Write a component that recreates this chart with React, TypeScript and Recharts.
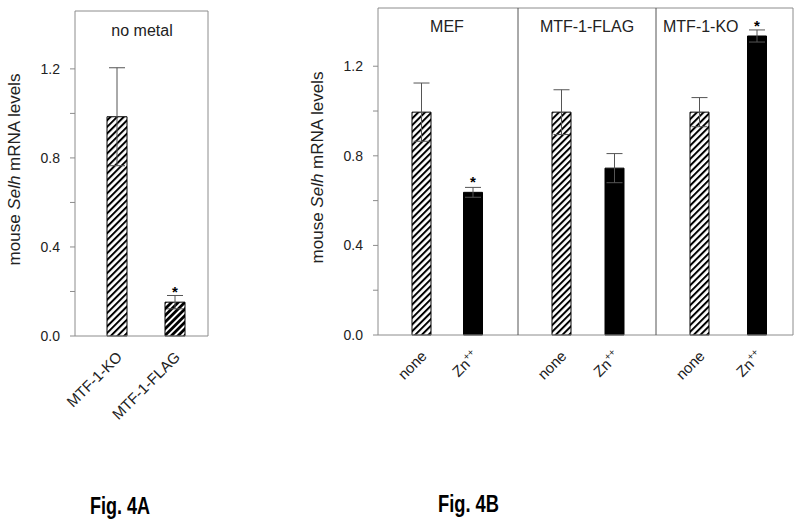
import React from 'react';
import { BarChart, Bar, XAxis, YAxis, ErrorBar, Cell, LabelList } from 'recharts';

// Fig. 4A: no metal
const groupsA = ['MTF-1-KO', 'MTF-1-FLAG'];
const levelsA = [0.985, 0.152];
const errorsA = [0.22, 0.03];
const starsA = ['', '*'];
const fillsA = ['url(#hatch)', 'url(#hatchDense)'];

// Fig. 4B: three cell lines, untreated vs zinc
const treatments = ['none', 'Zn++'];
const cellLines = ['MEF', 'MTF-1-FLAG', 'MTF-1-KO'];
const levelsMEF = [0.995, 0.637];
const errorsMEF = [0.13, 0.022];
const starsMEF = ['', '*'];
const levelsFLAG = [0.995, 0.745];
const errorsFLAG = [0.1, 0.065];
const starsFLAG = ['', ''];
const levelsKO = [0.995, 1.335];
const errorsKO = [0.065, 0.027];
const starsKO = ['', '*'];
const fillsB = ['url(#hatch)', '#000'];

const yTicks = [0, 0.2, 0.4, 0.6, 0.8, 1.0, 1.2];
const Y_MAX = 1.46;
const FONT = '"Liberation Sans", Arial, Helvetica, sans-serif';
const BOX = '#8c8c8c';

const dataA = groupsA.map((g, i) => ({ name: g, value: levelsA[i], err: errorsA[i], star: starsA[i] }));
const makeB = (levels: number[], errs: number[], stars: string[]) =>
  treatments.map((t, i) => ({ name: t, value: levels[i], err: errs[i], star: stars[i] }));
const sectionData = [
  makeB(levelsMEF, errorsMEF, starsMEF),
  makeB(levelsFLAG, errorsFLAG, starsFLAG),
  makeB(levelsKO, errorsKO, starsKO),
];

const fmtY = (v: number) => (Math.round(v * 10) % 4 === 0 ? v.toFixed(1) : '');

const RotTick = ({ x, y, payload }: any) => {
  const v = String(payload.value);
  const sup = v.endsWith('++');
  return (
    <text
      transform={`translate(${x + 6},${y + 22}) rotate(-45)`}
      textAnchor="end"
      fontSize={15}
      fill="#222"
      fontFamily={FONT}
    >
      {sup ? v.slice(0, -2) : v}
      {sup && (
        <tspan dy={-6} fontSize={10} fill="#222">
          ++
        </tspan>
      )}
    </text>
  );
};

const YLabel = ({ viewBox }: any) => {
  const cx = viewBox.x + viewBox.width - 61;
  const cy = viewBox.y + viewBox.height / 2 - 4;
  return (
    <text
      x={cx}
      y={cy}
      transform={`rotate(-90, ${cx}, ${cy})`}
      textAnchor="middle"
      dominantBaseline="central"
      fontSize={17}
      fill="#222"
      fontFamily={FONT}
    >
      {'mouse '}
      <tspan fontStyle="italic">Selh</tspan>
      {' mRNA levels'}
    </text>
  );
};

const Star = ({ x, y, width, value }: any) =>
  value ? (
    <text x={x + width / 2} y={y - 5} textAnchor="middle" fontSize={15} fontWeight="bold" fill="#000" fontFamily={FONT}>
      {value}
    </text>
  ) : null;

interface PanelProps {
  data: { name: string; value: number; err: number; star: string }[];
  fills: string[];
  left: number;
  width: number;
  top: number;
  axisWidth: number;
  marginRight: number;
  pad: { left: number; right: number };
  barSize: number;
  divider?: boolean;
  rightEdge?: boolean;
}

// plot area: top edge at `top`, bottom edge at y = 336 (A) / 335 (B)
const Panel = ({ data, fills, left, width, top, axisWidth, marginRight, pad, barSize, divider, rightEdge }: PanelProps) => (
  <div style={{ position: 'absolute', left: axisWidth > 0 ? left : left - 1, top: 0 }}>
    <BarChart
      width={axisWidth > 0 ? width : width + 1}
      height={440}
      data={data}
      margin={{ top: top - 1, right: rightEdge ? marginRight - 1 : marginRight, bottom: 0, left: 0 }}
    >
      <XAxis
        dataKey="name"
        height={440 - 336 + (top === 8 ? 1 : 0)}
        padding={pad}
        tick={<RotTick />}
        tickLine={false}
        tickSize={0}
        tickMargin={0}
        interval={0}
        axisLine={{ stroke: BOX }}
      />
      <XAxis xAxisId="top" orientation="top" dataKey="name" height={1} tick={false} tickLine={false} axisLine={{ stroke: BOX }} />
      {axisWidth > 0 ? (
        <YAxis
          width={axisWidth}
          domain={[0, Y_MAX]}
          ticks={yTicks}
          interval={0}
          tickFormatter={fmtY}
          tick={{ fontSize: 14, fill: '#222', fontFamily: FONT }}
          tickSize={5}
          tickMargin={10}
          tickLine={{ stroke: BOX }}
          axisLine={{ stroke: BOX }}
          label={<YLabel />}
        />
      ) : (
        <YAxis
          width={1}
          domain={[0, Y_MAX]}
          tick={false}
          tickLine={false}
          axisLine={divider ? { stroke: '#555' } : false}
        />
      )}
      {rightEdge && (
        <YAxis yAxisId="right" orientation="right" domain={[0, Y_MAX]} width={1} tick={false} tickLine={false} axisLine={{ stroke: BOX }} />
      )}
      <Bar dataKey="value" barSize={barSize} isAnimationActive={false}>
        {data.map((d, i) => (
          <Cell key={d.name} fill={fills[i]} stroke="#000" strokeWidth={1} />
        ))}
        <ErrorBar dataKey="err" width={8} stroke="#555" strokeWidth={1} direction="y" />
        <LabelList dataKey="star" content={<Star />} />
      </Bar>
    </BarChart>
  </div>
);

export default function App() {
  return (
    <div style={{ position: 'absolute', left: 0, top: 0, width: 800, height: 529, background: '#fff', fontFamily: FONT }}>
      <svg width={0} height={0} style={{ position: 'absolute' }}>
        <defs>
          <pattern id="hatch" patternUnits="userSpaceOnUse" width={4.7} height={10} patternTransform="rotate(45)">
            <rect width={4.7} height={10} fill="#fff" />
            <rect width={2} height={10} fill="#000" />
          </pattern>
          <pattern id="hatchDense" patternUnits="userSpaceOnUse" width={4.7} height={10} patternTransform="rotate(45)">
            <rect width={4.7} height={10} fill="#fff" />
            <rect width={2.8} height={10} fill="#000" />
          </pattern>
        </defs>
      </svg>

      <Panel data={dataA} fills={fillsA} left={0} width={230} top={11} axisWidth={75} marginRight={22} pad={{ left: 13, right: 4 }} barSize={20} rightEdge />
      <Panel data={sectionData[0]} fills={fillsB} left={290} width={228} top={8} axisWidth={88} marginRight={0} pad={{ left: 18, right: 19 }} barSize={19} />
      <Panel data={sectionData[1]} fills={fillsB} left={518} width={138} top={8} axisWidth={0} marginRight={0} pad={{ left: 17, right: 15 }} barSize={19} divider />
      <Panel data={sectionData[2]} fills={fillsB} left={656} width={144} top={8} axisWidth={0} marginRight={7} pad={{ left: 15, right: 7 }} barSize={19} divider rightEdge />

      <svg width={800} height={529} style={{ position: 'absolute', left: 0, top: 0, pointerEvents: 'none' }}>
        <g fontFamily={FONT} fontSize={16} fill="#222">
          <text x={142} y={36} textAnchor="middle">no metal</text>
          <text x={447} y={32} textAnchor="middle">{cellLines[0]}</text>
          <text x={587} y={32} textAnchor="middle">{cellLines[1]}</text>
          <text x={663} y={32}>{cellLines[2]}</text>
        </g>
        <g fontFamily={FONT} fontSize={23} fontWeight="bold" fill="#000">
          <text x={90} y={514} textLength={60} lengthAdjust="spacingAndGlyphs">Fig. 4A</text>
          <text x={438} y={512} textLength={61} lengthAdjust="spacingAndGlyphs">Fig. 4B</text>
        </g>
      </svg>
    </div>
  );
}
